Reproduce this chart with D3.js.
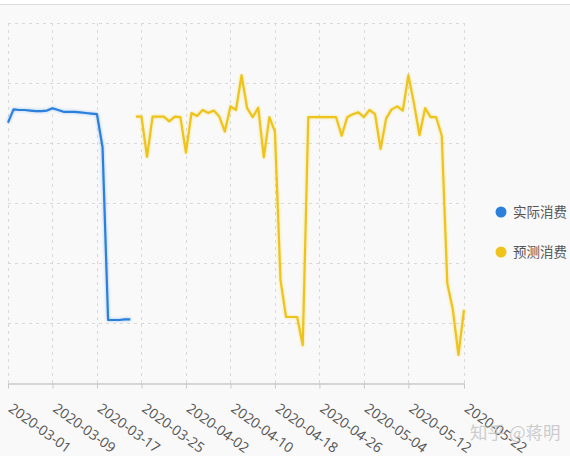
<!DOCTYPE html>
<html>
<head>
<meta charset="utf-8">
<script src="https://cdn.jsdelivr.net/npm/d3@7/dist/d3.min.js"></script>
<style>
  html, body { margin: 0; padding: 0; background: #ffffff; }
  svg { display: block; }
</style>
</head>
<body>
<svg id="chart" width="570" height="456"></svg>
<script>
// ---- data ----
const startDate = "2020-03-01";
const actualStart = "2020-03-01";
const actualValues = [434, 456, 455, 455, 454, 453, 453, 454, 458, 455, 452, 452, 452, 451, 450, 449, 448, 393, 105, 105, 105, 106, 106];
const forecastStart = "2020-03-24";
const forecastValues = [
  444, 444, 377, 444, 444, 444, 436, 444, 443, 384,
  450, 445, 455, 450, 454, 444, 419, 461, 455, 513,
  458, 443, 459, 376, 443, 419, 172, 110, 110, 110,
  63, 443, 443, 443, 443, 443, 443, 412, 443, 448,
  451, 443, 455, 448, 390, 441, 456, 461, 454, 513,
  466, 413, 458, 443, 443, 412, 166, 122, 47, 122
];
const tickLabels = ["2020-03-01", "2020-03-09", "2020-03-17", "2020-03-25", "2020-04-02", "2020-04-10", "2020-04-18", "2020-04-26", "2020-05-04", "2020-05-12", "2020-05-22"];
const yTicks = [0, 100, 200, 300, 400, 500, 600];
const seriesNames = ["实际消费", "预测消费"];
const seriesColors = ["#2b80dc", "#eec41c"];

// ---- build ----
const parse = d3.timeParse("%Y-%m-%d");
function toPoints(start, vals) {
  const s = parse(start);
  return vals.map((v, i) => ({ date: d3.timeDay.offset(s, i), value: v }));
}
const actual = toPoints(actualStart, actualValues);
const forecast = toPoints(forecastStart, forecastValues);

const svg = d3.select("#chart");
const W = 570, H = 456;

// background
svg.append("rect").attr("x", 0).attr("y", 0).attr("width", W).attr("height", H).attr("fill", "#f9f9f9");
svg.append("rect").attr("x", 0).attr("y", 0).attr("width", W).attr("height", 4).attr("fill", "#ffffff");
svg.append("line").attr("x1", 0).attr("x2", W).attr("y1", 4.5).attr("y2", 4.5).attr("stroke", "#dcdcdc");

const x = d3.scaleTime()
  .domain([parse(startDate), parse(tickLabels[tickLabels.length - 1])])
  .range([8, 464]);
const y = d3.scaleLinear().domain([0, 600]).range([383, 23]);

const tickDates = tickLabels.map(parse);

// grid
const grid = svg.append("g");
grid.selectAll(".hg").data(yTicks.slice(1)).enter().append("line")
  .attr("x1", x.range()[0]).attr("x2", x.range()[1])
  .attr("y1", d => Math.round(y(d)) + 0.5).attr("y2", d => Math.round(y(d)) + 0.5)
  .attr("stroke", "#d8d8d8").attr("stroke-dasharray", "3,4");
grid.selectAll(".vg").data(tickDates).enter().append("line")
  .attr("x1", d => Math.round(x(d)) + 0.5).attr("x2", d => Math.round(x(d)) + 0.5)
  .attr("y1", y(600)).attr("y2", y(0))
  .attr("stroke", "#d8d8d8").attr("stroke-dasharray", "3,4");

// axis
const axis = svg.append("g")
  .attr("transform", `translate(0,${y(0) + 0.5})`)
  .call(d3.axisBottom(x).tickValues(tickDates).tickFormat(d3.timeFormat("%Y-%m-%d")).tickSize(5).tickSizeOuter(0));
axis.select(".domain").attr("stroke", "#c8c8c8").attr("stroke-width", 1.5);
axis.selectAll(".tick line").attr("stroke", "#c8c8c8");
axis.selectAll(".tick text")
  .attr("fill", "#555")
  .attr("font-family", "'Open Sans', 'Noto Sans', sans-serif")
  .attr("font-size", "14px")
  .attr("text-anchor", "start")
  .attr("dy", null)
  .attr("y", 0)
  .attr("transform", "translate(-1,27) rotate(36)");

// lines
const defs = svg.append("defs");
seriesColors.forEach((c, i) => {
  const f = defs.append("filter").attr("id", "glow" + i).attr("x", "-10%").attr("y", "-10%").attr("width", "120%").attr("height", "120%");
  f.append("feDropShadow").attr("dx", 0).attr("dy", 0).attr("stdDeviation", 1.5).attr("flood-color", c).attr("flood-opacity", 0.45);
});
const line = d3.line().x(d => x(d.date)).y(d => y(d.value));
[actual, forecast].forEach((data, i) => {
  svg.append("path").datum(data)
    .attr("d", line)
    .attr("fill", "none")
    .attr("stroke", seriesColors[i])
    .attr("stroke-width", 2.2)
    .attr("stroke-linejoin", "round")
    .attr("filter", `url(#glow${i})`);
});

// legend
const legend = svg.append("g");
seriesNames.forEach((name, i) => {
  const g = legend.append("g").attr("transform", `translate(501,${212 + i * 40})`);
  g.append("circle").attr("r", 5.5).attr("fill", seriesColors[i]);
  g.append("text").attr("x", 12).attr("y", 0).attr("dy", "0.36em")
    .attr("font-family", "'Noto Sans CJK SC', sans-serif")
    .attr("font-size", "13.5px")
    .attr("fill", "#555")
    .text(name);
});

// watermark
svg.append("text").attr("x", 470).attr("y", 439)
  .attr("font-family", "'Noto Sans CJK SC', sans-serif")
  .attr("font-size", "17.5px")
  .attr("fill", "#c4c4c4").attr("fill-opacity", 0.85)
  .text("知乎 @蒋明");
</script>
</body>
</html>
